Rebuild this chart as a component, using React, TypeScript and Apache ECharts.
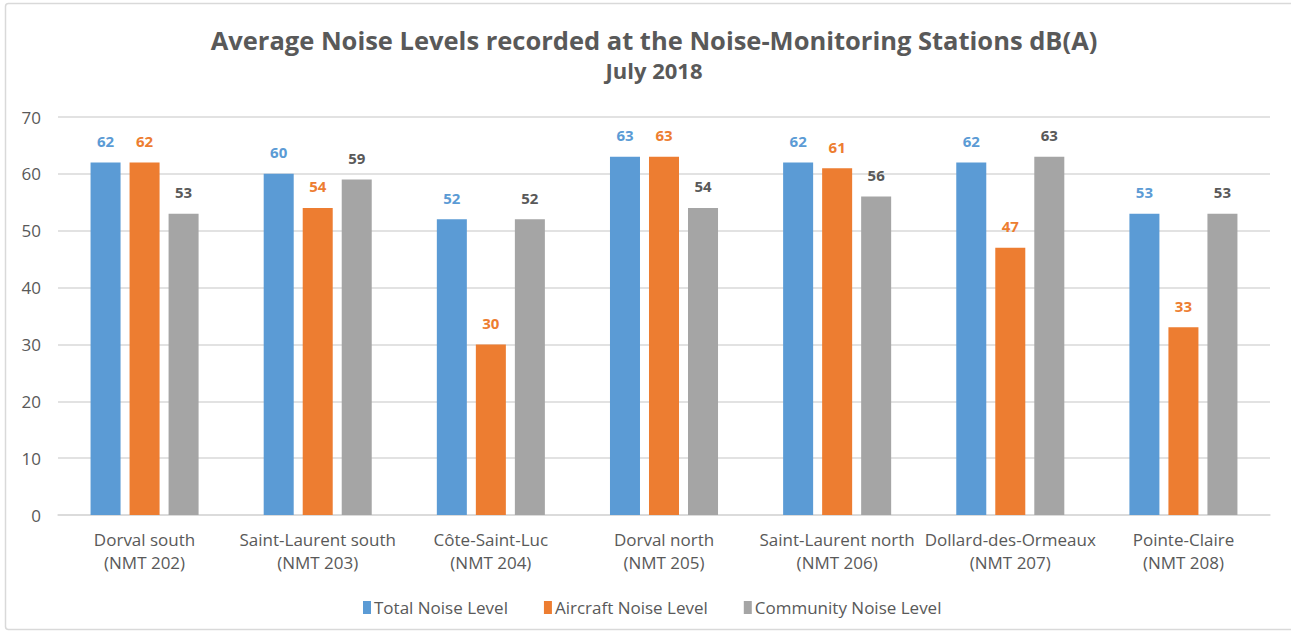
import React, { useEffect, useRef } from "react";
import * as echarts from "echarts";

const categories = [
  "Dorval south\n(NMT 202)",
  "Saint-Laurent south\n(NMT 203)",
  "Côte-Saint-Luc\n(NMT 204)",
  "Dorval north\n(NMT 205)",
  "Saint-Laurent north\n(NMT 206)",
  "Dollard-des-Ormeaux\n(NMT 207)",
  "Pointe-Claire\n(NMT 208)",
];
const totalNoise = [62, 60, 52, 63, 62, 62, 53];
const aircraftNoise = [62, 54, 30, 63, 61, 47, 33];
const communityNoise = [53, 59, 52, 54, 56, 63, 53];
const seriesNames = ["Total Noise Level", "Aircraft Noise Level", "Community Noise Level"];
const colors = ["#5B9BD5", "#ED7D31", "#A5A5A5"];

const FONT = "'Open Sans', 'Noto Sans', sans-serif";

export default function App() {
  const ref = useRef<HTMLDivElement>(null);
  useEffect(() => {
    if (!ref.current) return;
    const chart = echarts.init(ref.current, null, { renderer: "svg" });
    const data = [totalNoise, aircraftNoise, communityNoise];
    chart.setOption({
      animation: false,
      backgroundColor: "#ffffff",
      textStyle: { fontFamily: FONT },
      title: {
        text: "Average Noise Levels recorded at the Noise-Monitoring Stations dB(A)",
        subtext: "July 2018",
        left: 649,
        textAlign: "center",
        top: 22,
        itemGap: 6,
        textStyle: { fontFamily: FONT, fontSize: 25.5, fontWeight: "bold", color: "#595959" },
        subtextStyle: { fontFamily: FONT, fontSize: 22, fontWeight: "bold", color: "#595959" },
      },
      graphic: [
        {
          type: "rect",
          shape: { x: 5.5, y: 3.5, width: 1300, height: 626, r: 3 },
          style: { fill: "none", stroke: "#D9D9D9", lineWidth: 1.5 },
          silent: true,
        },
      ],
      legend: {
        bottom: 16,
        left: 358,
        itemWidth: 8,
        itemHeight: 13,
        itemGap: 36,
        icon: "rect",
        textStyle: { fontFamily: FONT, fontSize: 17, color: "#595959", padding: [0, 0, 0, -2] },
        data: seriesNames,
      },
      grid: { left: 58, right: 21, top: 117, bottom: 122 },
      xAxis: {
        type: "category",
        data: categories,
        axisLine: { lineStyle: { color: "#D9D9D9", width: 1.5 } },
        axisTick: { show: false },
        axisLabel: {
          fontFamily: FONT,
          fontSize: 17,
          color: "#595959",
          lineHeight: 23,
          margin: 13,
          interval: 0,
        },
      },
      yAxis: {
        type: "value",
        min: 0,
        max: 70,
        interval: 10,
        axisLine: { show: false },
        axisTick: { show: false },
        splitLine: { lineStyle: { color: "#D9D9D9", width: 1.5 } },
        axisLabel: { fontFamily: FONT, fontSize: 17, color: "#595959", margin: 17 },
      },
      series: seriesNames.map((name, i) => ({
        name,
        type: "bar",
        data: data[i],
        barGap: "30%",
        barCategoryGap: "37.6%",
        itemStyle: { color: colors[i] },
        label: {
          show: true,
          position: "top",
          distance: 14,
          fontFamily: FONT,
          fontSize: 15,
          fontWeight: "bold",
          color: i === 2 ? "#595959" : colors[i],
        },
      })),
    });
    return () => chart.dispose();
  }, []);
  return (
    <div
      ref={ref}
      style={{ position: "fixed", left: 0, top: 0, width: 1291, height: 637 }}
    />
  );
}
